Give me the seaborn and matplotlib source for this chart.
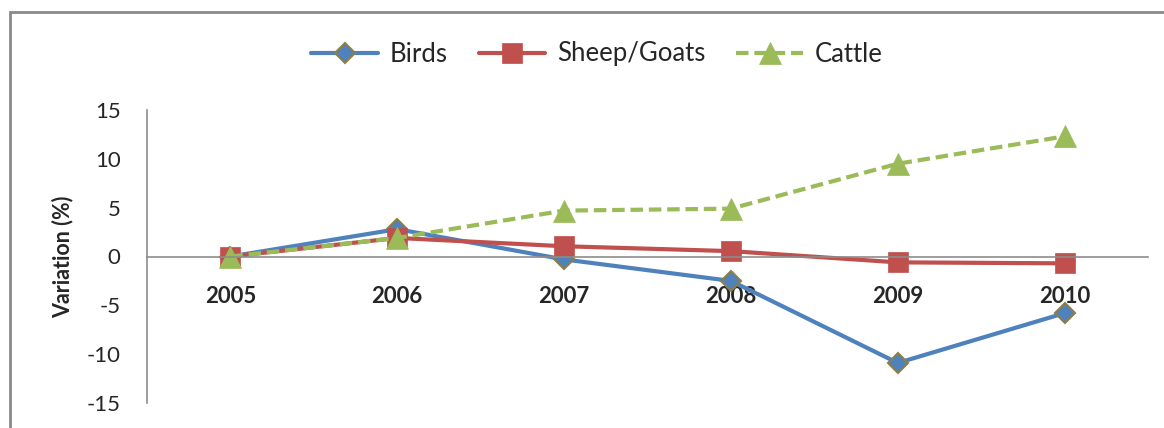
import matplotlib
matplotlib.use("Agg")
import matplotlib.pyplot as plt
import seaborn as sns
import pandas as pd
from matplotlib.patches import Rectangle

years = ["2005", "2006", "2007", "2008", "2009", "2010"]
birds = [0.0, 2.8, -0.3, -2.5, -10.9, -5.8]
sheep_goats = [0.0, 1.9, 1.05, 0.55, -0.6, -0.7]
cattle = [0.0, 1.9, 4.7, 4.9, 9.5, 12.3]
series_names = ["Birds", "Sheep/Goats", "Cattle"]
y_ticks = [-15, -10, -5, 0, 5, 10, 15]

df = pd.DataFrame({
    "Year": years * 3,
    "Variation": birds + sheep_goats + cattle,
    "Series": [s for s in series_names for _ in years],
})

sns.set_theme(style="white")
plt.rcParams["font.family"] = ["Lato", "DejaVu Sans"]

fig = plt.figure(figsize=(11.64, 4.28), dpi=100)
W, H = 1164, 428
ax = fig.add_axes([147 / W, (H - 403) / H, (1148 - 147) / W, (403 - 110) / H])

palette = {"Birds": "#4F81BD", "Sheep/Goats": "#C0504D", "Cattle": "#9BBB59"}
markers = {"Birds": "D", "Sheep/Goats": "s", "Cattle": "^"}
sizes_ms = {"Birds": 10, "Sheep/Goats": 15, "Cattle": 16}
edge = {"Birds": "#8C7E45", "Sheep/Goats": "#C0504D", "Cattle": "#9BBB59"}

for name in series_names:
    sub = df[df["Series"] == name]
    sns.lineplot(data=sub, x="Year", y="Variation", ax=ax, color=palette[name],
                 marker=markers[name], markersize=sizes_ms[name],
                 markeredgecolor=edge[name], markeredgewidth=1.5 if name == "Birds" else 0.5,
                 linewidth=3, label=name, sort=False)
    if name == "Cattle":
        ax.lines[-1].set_dashes((3.0, 1.4))

ax.set_xlim(-0.5, 5.5)
ax.set_ylim(-15, 15)
ax.set_yticks(y_ticks)
ax.set_yticklabels([str(v) for v in y_ticks])
ax.set_xticks(range(len(years)))
ax.tick_params(axis="y", length=0, pad=19, labelsize=16)
ax.tick_params(axis="x", length=0, pad=21, labelsize=16)
for s in ["top", "right"]:
    ax.spines[s].set_visible(False)
ax.spines["left"].set_color("#8C8C8C")
ax.spines["left"].set_linewidth(1.2)
ax.spines["bottom"].set_position(("data", 0))
ax.spines["bottom"].set_color("#8C8C8C")
ax.spines["bottom"].set_linewidth(1.2)
ax.set_xlabel("")
ax.set_ylabel("Variation (%)", fontsize=15.5, fontweight="bold")
ax.yaxis.set_label_coords(-0.073, 0.5)

leg = ax.get_legend()
if leg is not None:
    leg.remove()
handles, labels = ax.get_legend_handles_labels()
fig.legend(handles, labels, loc="center", bbox_to_anchor=(597 / W, 1 - 54 / H), ncol=3,
           frameon=False, fontsize=18.5, handlelength=2.6, columnspacing=1.2,
           handletextpad=0.45)

fig.patches.append(Rectangle((10 / W, -0.1), 1.2, (H - 12) / H + 0.1, transform=fig.transFigure,
                             fill=False, edgecolor="#8A8A8A", linewidth=2, zorder=0))

fig.canvas.draw()
for lbl in ax.get_xticklabels():
    lbl.set_fontweight("bold")
    lbl.set_fontsize(16)

fig.savefig("out.png", dpi=100)
